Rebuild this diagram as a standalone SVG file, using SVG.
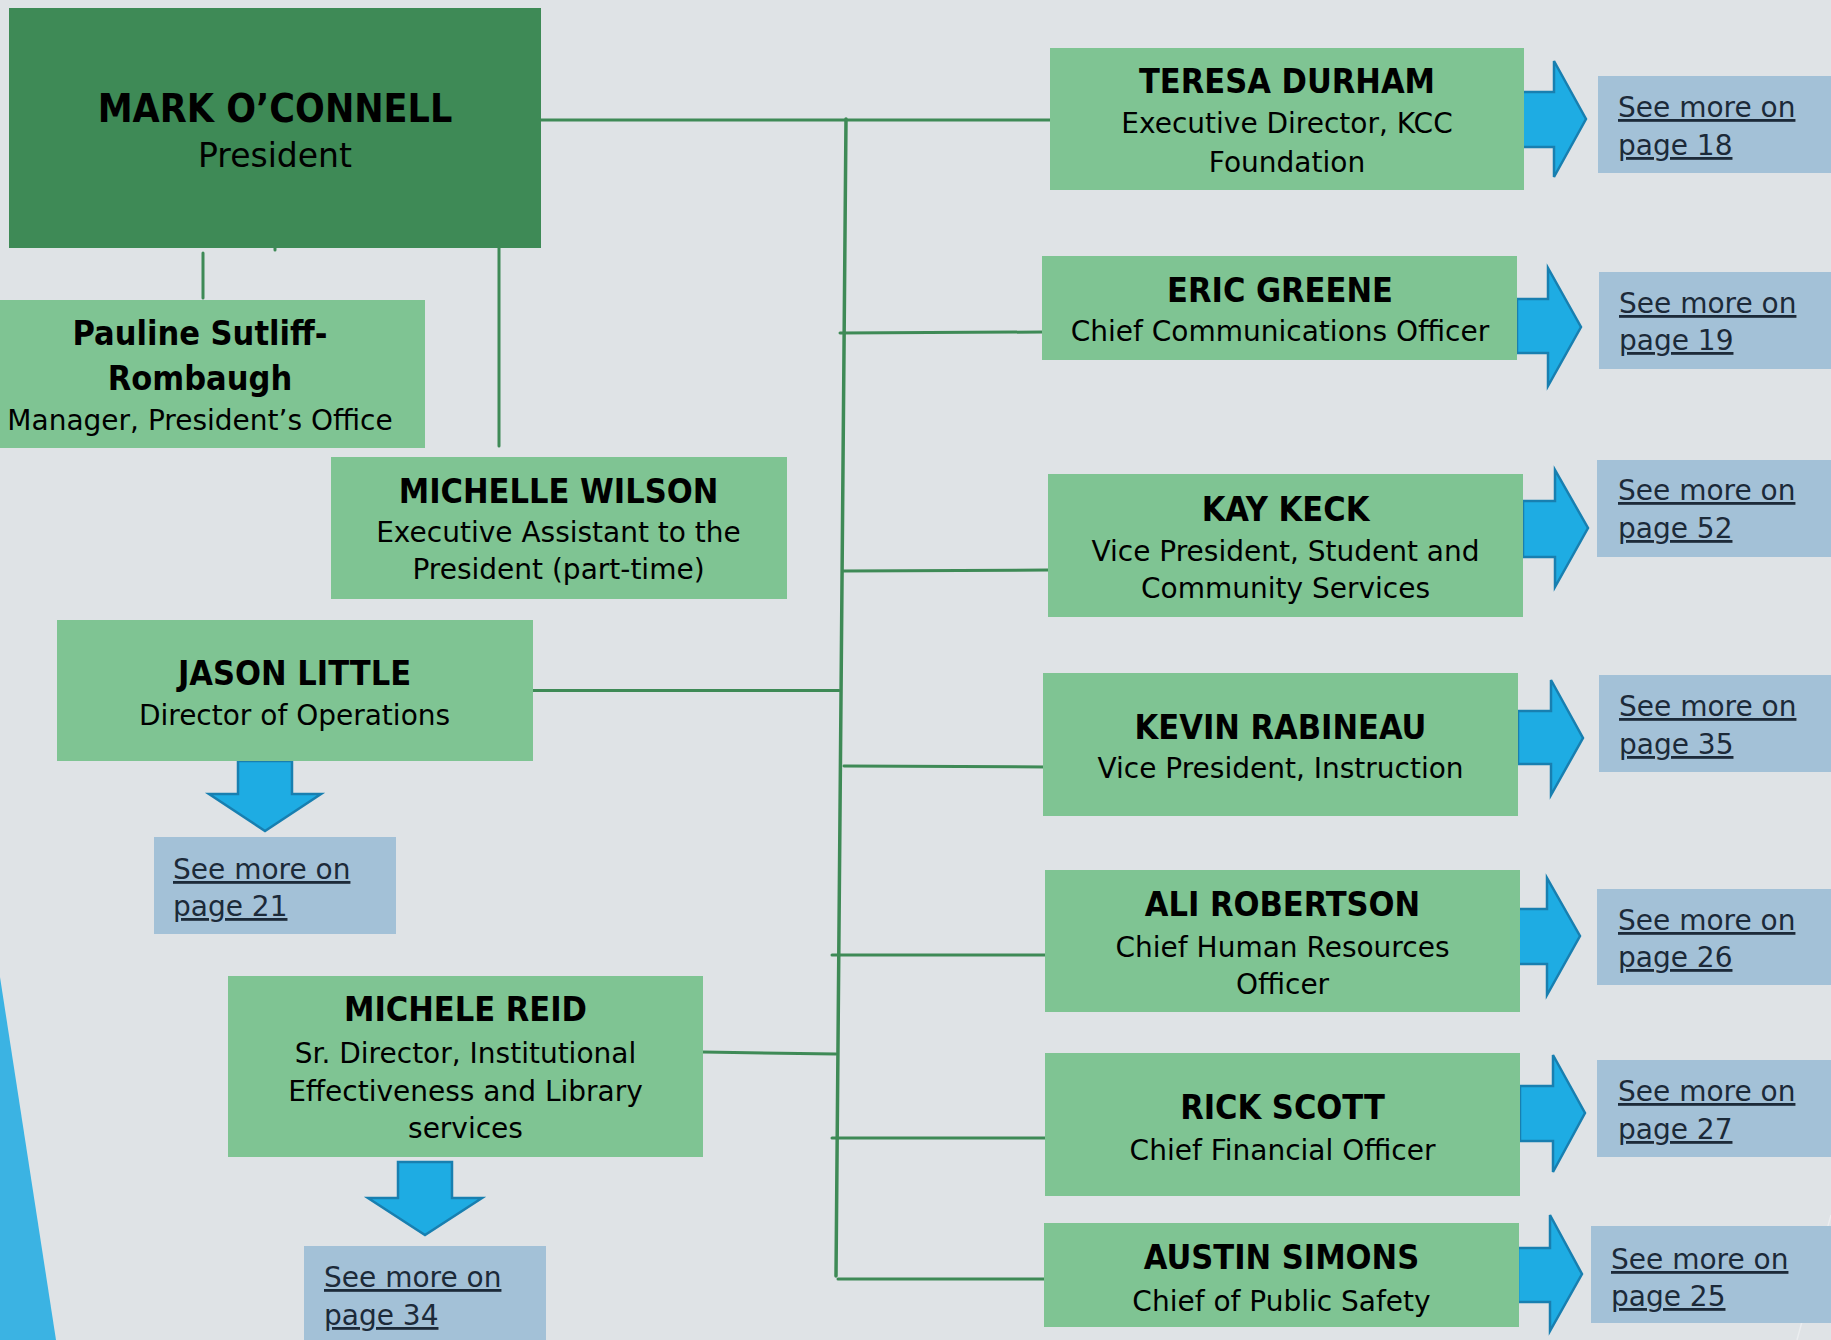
<svg xmlns="http://www.w3.org/2000/svg" width="1831" height="1340" viewBox="0 0 1831 1340">
<style>
.bg{fill:#dfe3e6}
.pres{fill:#3e8a56}
.box{fill:#7fc493}
.more{fill:#a3c1d7}
.arr{fill:#1eace3;stroke:#187fb0;stroke-width:2.5;stroke-linejoin:miter}
.con{stroke:#3e8a56;stroke-width:3;fill:none;stroke-linecap:round}
.nm{font-family:"DejaVu Sans Condensed","DejaVu Sans",sans-serif;font-stretch:condensed;font-weight:bold;font-size:34px;fill:#000;text-anchor:middle}
.sb{font-family:"DejaVu Sans",sans-serif;font-size:28px;fill:#000;text-anchor:middle}
.lk{font-family:"DejaVu Sans",sans-serif;font-size:28px;fill:#1c2a39;text-decoration:underline}
</style>
<rect class="bg" x="0" y="0" width="1831" height="1340"/>
<polygon points="0,977 56,1340 0,1340" fill="#3bb3e3"/>
<line x1="1831" y1="1215" x2="1797" y2="1340" stroke="#eef0f2" stroke-width="1.5" opacity="0.8"/>

<g id="connectors">
  <line class="con" x1="541" y1="120" x2="1050" y2="120"/>
  <line class="con" x1="846" y1="119" x2="836" y2="1276" style="stroke-width:3.5"/>
  <line class="con" x1="840" y1="333" x2="1042" y2="332"/>
  <line class="con" x1="843" y1="571" x2="1048" y2="570"/>
  <line class="con" x1="533" y1="690.5" x2="839" y2="690.5"/>
  <line class="con" x1="844" y1="766" x2="1047" y2="767"/>
  <line class="con" x1="832" y1="955" x2="1047" y2="955"/>
  <line class="con" x1="703" y1="1052" x2="836" y2="1054"/>
  <line class="con" x1="832" y1="1138" x2="1050" y2="1138"/>
  <line class="con" x1="838" y1="1279" x2="1050" y2="1279"/>
  <line class="con" x1="203" y1="253" x2="203" y2="298"/>
  <line class="con" x1="499" y1="248" x2="499" y2="446"/>
  <line class="con" x1="275" y1="247" x2="275" y2="250"/>
  <g id="arrows">
    <polygon class="arr" points="1522,92 1554,92 1554,61 1586,119 1554,177 1554,147 1522,147"/>
    <polygon class="arr" points="1517,299 1548,299 1548,268 1581,327 1548,386 1548,353 1517,353"/>
    <polygon class="arr" points="1523,501 1555,501 1555,470 1588,528 1555,587 1555,557 1523,557"/>
    <polygon class="arr" points="1518,711 1551,711 1551,680 1583,738 1551,795 1551,764 1518,764"/>
    <polygon class="arr" points="1516,909 1547,909 1547,878 1580,936 1547,995 1547,964 1516,964"/>
    <polygon class="arr" points="1520,1086 1553,1086 1553,1055 1585,1113 1553,1172 1553,1141 1520,1141"/>
    <polygon class="arr" points="1518,1248 1550,1248 1550,1215 1582,1274 1550,1331 1550,1302 1518,1302"/>
    <polygon class="arr" points="238,761 292,761 292,794 321,794 265,831 209,794 238,794"/>
    <polygon class="arr" points="398,1162 452,1162 452,1198 482,1198 425,1235 368,1198 398,1198"/>
  </g>
</g>

<g id="president">
  <rect class="pres" x="9" y="8" width="532" height="240"/>
  <text class="nm" x="275" y="122" style="font-size:39px">MARK O’CONNELL</text>
  <text class="sb" x="275" y="167" style="font-size:33px">President</text>
</g>

<g id="pauline">
  <rect class="box" x="0" y="300" width="425" height="148"/>
  <text class="nm" x="200" y="345">Pauline Sutliff-</text>
  <text class="nm" x="200" y="390">Rombaugh</text>
  <text class="sb" x="200" y="430">Manager, President’s Office</text>
</g>

<g id="michelle-wilson">
  <rect class="box" x="331" y="457" width="456" height="142"/>
  <text class="nm" x="558.5" y="503">MICHELLE WILSON</text>
  <text class="sb" x="558.5" y="542">Executive Assistant to the</text>
  <text class="sb" x="558.5" y="579">President (part-time)</text>
</g>

<g id="jason-little">
  <rect class="box" x="57" y="620" width="476" height="141"/>
  <text class="nm" x="294.5" y="685">JASON LITTLE</text>
  <text class="sb" x="294.5" y="725">Director of Operations</text>
</g>

<g id="more-21">
  <rect class="more" x="154" y="837" width="242" height="97"/>
  <text class="lk" x="173" y="879">See more on</text>
  <text class="lk" x="173" y="916">page 21</text>
</g>

<g id="michele-reid">
  <rect class="box" x="228" y="976" width="475" height="181"/>
  <text class="nm" x="465.5" y="1021">MICHELE REID</text>
  <text class="sb" x="465.5" y="1063">Sr. Director, Institutional</text>
  <text class="sb" x="465.5" y="1101">Effectiveness and Library</text>
  <text class="sb" x="465.5" y="1138">services</text>
</g>

<g id="more-34">
  <rect class="more" x="304" y="1246" width="242" height="94"/>
  <text class="lk" x="324" y="1287">See more on</text>
  <text class="lk" x="324" y="1325">page 34</text>
</g>

<g id="teresa-durham">
  <rect class="box" x="1050" y="48" width="474" height="142"/>
  <text class="nm" x="1287" y="93">TERESA DURHAM</text>
  <text class="sb" x="1287" y="133">Executive Director, KCC</text>
  <text class="sb" x="1287" y="172">Foundation</text>
</g>
<g id="more-18">
  <rect class="more" x="1598" y="76" width="233" height="97"/>
  <text class="lk" x="1618" y="117">See more on</text>
  <text class="lk" x="1618" y="155">page 18</text>
</g>

<g id="eric-greene">
  <rect class="box" x="1042" y="256" width="475" height="104"/>
  <text class="nm" x="1280" y="302">ERIC GREENE</text>
  <text class="sb" x="1280" y="341">Chief Communications Officer</text>
</g>
<g id="more-19">
  <rect class="more" x="1599" y="272" width="232" height="97"/>
  <text class="lk" x="1619" y="313">See more on</text>
  <text class="lk" x="1619" y="350">page 19</text>
</g>

<g id="kay-keck">
  <rect class="box" x="1048" y="474" width="475" height="143"/>
  <text class="nm" x="1285.5" y="521">KAY KECK</text>
  <text class="sb" x="1285.5" y="561">Vice President, Student and</text>
  <text class="sb" x="1285.5" y="598">Community Services</text>
</g>
<g id="more-52">
  <rect class="more" x="1597" y="460" width="234" height="97"/>
  <text class="lk" x="1618" y="500">See more on</text>
  <text class="lk" x="1618" y="538">page 52</text>
</g>

<g id="kevin-rabineau">
  <rect class="box" x="1043" y="673" width="475" height="143"/>
  <text class="nm" x="1280.5" y="739">KEVIN RABINEAU</text>
  <text class="sb" x="1280.5" y="778">Vice President, Instruction</text>
</g>
<g id="more-35">
  <rect class="more" x="1599" y="675" width="232" height="97"/>
  <text class="lk" x="1619" y="716">See more on</text>
  <text class="lk" x="1619" y="754">page 35</text>
</g>

<g id="ali-robertson">
  <rect class="box" x="1045" y="870" width="475" height="142"/>
  <text class="nm" x="1282.5" y="916">ALI ROBERTSON</text>
  <text class="sb" x="1282.5" y="957">Chief Human Resources</text>
  <text class="sb" x="1282.5" y="994">Officer</text>
</g>
<g id="more-26">
  <rect class="more" x="1597" y="889" width="234" height="96"/>
  <text class="lk" x="1618" y="930">See more on</text>
  <text class="lk" x="1618" y="967">page 26</text>
</g>

<g id="rick-scott">
  <rect class="box" x="1045" y="1053" width="475" height="143"/>
  <text class="nm" x="1282.5" y="1119">RICK SCOTT</text>
  <text class="sb" x="1282.5" y="1160">Chief Financial Officer</text>
</g>
<g id="more-27">
  <rect class="more" x="1597" y="1060" width="234" height="97"/>
  <text class="lk" x="1618" y="1101">See more on</text>
  <text class="lk" x="1618" y="1139">page 27</text>
</g>

<g id="austin-simons">
  <rect class="box" x="1044" y="1223" width="475" height="104"/>
  <text class="nm" x="1281.5" y="1269">AUSTIN SIMONS</text>
  <text class="sb" x="1281.5" y="1311">Chief of Public Safety</text>
</g>
<g id="more-25">
  <rect class="more" x="1591" y="1226" width="240" height="97"/>
  <text class="lk" x="1611" y="1269">See more on</text>
  <text class="lk" x="1611" y="1306">page 25</text>
</g>
</svg>
